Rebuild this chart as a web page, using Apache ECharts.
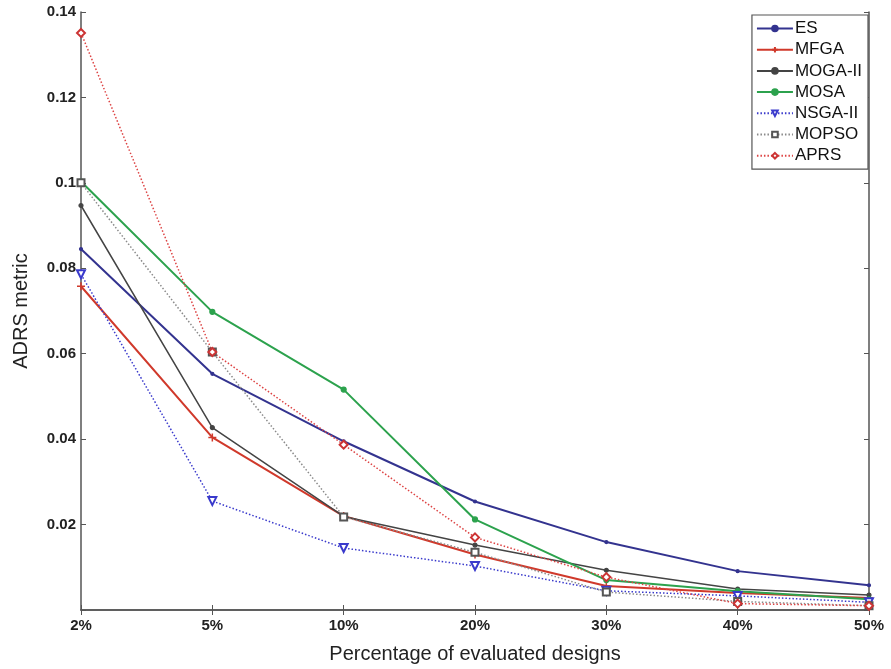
<!DOCTYPE html>
<html>
<head>
<meta charset="utf-8">
<script src="https://cdn.jsdelivr.net/npm/echarts@6/dist/echarts.min.js"></script>
<style>
  html, body { margin: 0; padding: 0; background: #fff; }
  #chart { width: 891px; height: 669px; }
</style>
</head>
<body>
<div id="chart"></div>
<script>
// Percentage of evaluated designs (x categories)
const categories = ['2%', '5%', '10%', '20%', '30%', '40%', '50%'];

// ADRS metric per algorithm
const esData     = [0.0845, 0.0553, 0.0395, 0.0254, 0.0159, 0.0091, 0.0058];
const mfgaData   = [0.0758, 0.0404, 0.0220, 0.0130, 0.0056, 0.0040, 0.0028];
const mogaData   = [0.0947, 0.0427, 0.0219, 0.0152, 0.0093, 0.0049, 0.0035];
const mosaData   = [0.1003, 0.0698, 0.0516, 0.0212, 0.0070, 0.0044, 0.0025];
const nsgaData   = [0.0786, 0.0255, 0.0145, 0.0103, 0.0045, 0.0033, 0.0018];
const mopsoData  = [0.1000, 0.0604, 0.0218, 0.0135, 0.0042, 0.0020, 0.0010];
const aprsData   = [0.1351, 0.0604, 0.0387, 0.0170, 0.0077, 0.0015, 0.0010];

// Y axis range and step
const yMin = 0, yMax = 0.14, yStep = 0.02;

const FONT = 'Liberation Sans, Arial, sans-serif';
const DOT = [1.5, 2];

function mkSeries(name, data, color, lineType, width, symbol, symbolSize, extra) {
  return Object.assign({
    name: name,
    type: 'line',
    data: data,
    symbol: symbol,
    symbolSize: symbolSize,
    showAllSymbol: true,
    lineStyle: { color: color, width: width, type: lineType },
    itemStyle: { color: color, borderColor: color, borderWidth: 1.2 },
    emphasis: { disabled: true },
    animation: false,
    z: 3
  }, extra || {});
}

const series = [
  mkSeries('ES', esData, '#33338f', 'solid', 2, 'circle', 3),
  mkSeries('MFGA', mfgaData, '#d0392b', 'solid', 2, 'path://M0,-5L0,5M-3,0L3,0', 8,
    { itemStyle: { color: 'none', borderColor: '#d0392b', borderWidth: 1.5 } }),
  mkSeries('MOGA-II', mogaData, '#444444', 'solid', 1.5, 'circle', 4),
  mkSeries('MOSA', mosaData, '#2ca24d', 'solid', 2, 'circle', 5),
  mkSeries('NSGA-II', nsgaData, '#3a3acc', DOT, 1.5, 'emptyTriangle', 8,
    { symbolRotate: 180, itemStyle: { color: '#3a3acc', borderWidth: 1.4 } }),
  mkSeries('MOPSO', mopsoData, '#8a8a8a', DOT, 1.5, 'emptyRect', 7,
    { itemStyle: { color: '#555555', borderWidth: 1.3 } }),
  mkSeries('APRS', aprsData, '#dd4444', DOT, 1.5, 'emptyDiamond', 8,
    { itemStyle: { color: '#cc3333', borderWidth: 1.4 } })
];

const axisColor = '#555555';

const chart = echarts.init(document.getElementById('chart'), null, { renderer: 'canvas' });
chart.setOption({
  backgroundColor: '#ffffff',
  animation: false,
  grid: { left: 81, right: 22, top: 12, bottom: 57, containLabel: false },
  legend: {
    orient: 'vertical',
    right: 23,
    top: 15,
    backgroundColor: '#ffffff',
    borderColor: '#555555',
    borderWidth: 1.2,
    padding: [5, 6, 5, 4],
    itemGap: 4.2,
    itemWidth: 36,
    itemHeight: 7,
    textStyle: { fontFamily: FONT, fontSize: 17, color: '#111', padding: [0, 0, 0, -3] },
    data: ['ES', 'MFGA', 'MOGA-II', 'MOSA', 'NSGA-II', 'MOPSO', 'APRS']
  },
  xAxis: [{
    type: 'category',
    data: categories,
    boundaryGap: false,
    name: 'Percentage of evaluated designs',
    nameLocation: 'middle',
    nameGap: 34,
    nameTextStyle: { fontFamily: FONT, fontSize: 20, color: '#222' },
    axisLine: { lineStyle: { color: axisColor, width: 1.5 } },
    axisTick: { inside: true, length: 5, alignWithLabel: true, lineStyle: { color: axisColor } },
    axisLabel: { fontFamily: FONT, fontSize: 15, fontWeight: 'bold', color: '#222', margin: 8 },
    splitLine: { show: false }
  }, {
    type: 'category',
    data: categories,
    boundaryGap: false,
    position: 'top',
    axisLine: { lineStyle: { color: axisColor, width: 1.5 } },
    axisTick: { inside: true, length: 5, lineStyle: { color: axisColor } },
    axisLabel: { show: false },
    splitLine: { show: false }
  }],
  yAxis: [{
    type: 'value',
    min: yMin,
    max: yMax,
    interval: yStep,
    name: 'ADRS metric',
    nameLocation: 'middle',
    nameGap: 50,
    nameTextStyle: { fontFamily: FONT, fontSize: 20, color: '#222' },
    axisLine: { show: true, lineStyle: { color: axisColor, width: 1.5 } },
    axisTick: { show: true, inside: true, length: 5, lineStyle: { color: axisColor } },
    axisLabel: {
      fontFamily: FONT, fontSize: 15, fontWeight: 'bold', color: '#222', margin: 5,
      formatter: v => (v === 0 ? '' : String(+v.toFixed(2)))
    },
    splitLine: { show: false }
  }, {
    type: 'value',
    min: yMin,
    max: yMax,
    interval: yStep,
    position: 'right',
    axisLine: { show: true, lineStyle: { color: axisColor, width: 1.5 } },
    axisTick: { show: true, inside: true, length: 5, lineStyle: { color: axisColor } },
    axisLabel: { show: false },
    splitLine: { show: false }
  }],
  series: series
});
</script>
</body>
</html>
